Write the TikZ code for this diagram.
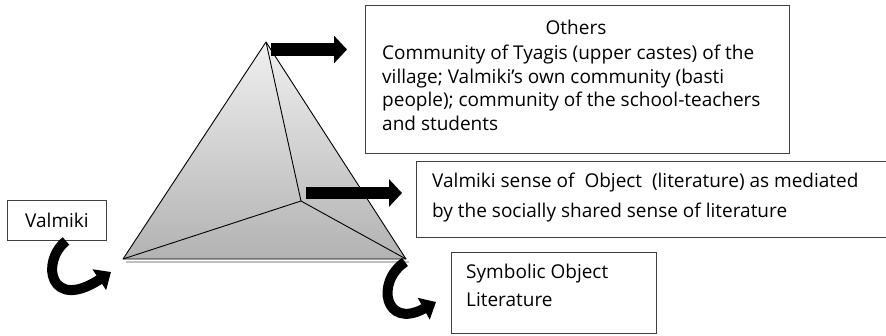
\documentclass[tikz,border=0pt]{standalone}
\usepackage{fontspec}
\setmainfont{Open Sans}
\usetikzlibrary{arrows.meta}
\newcommand{\bfs}[1]{\fontsize{19}{#1}\selectfont}
\tikzset{
  box/.style={draw=black!75, line width=0.9pt, fill=white, inner sep=0pt, anchor=north west},
  txt/.style={inner sep=0pt, anchor=base west, font=\bfs{23.5}},
  blockarrow/.style={line width=12.5pt, -{Triangle[width=27pt,length=13pt]}},
  curvearrow/.style={line width=10pt, -{Triangle[width=24pt,length=14pt]}},
  edge/.style={line width=0.9pt, line join=round}
}
\begin{document}
\begin{tikzpicture}[x=1pt,y=-1pt]
\useasboundingbox (0,0) rectangle (886,335);
% pyramid
\coordinate (A) at (266,42);
\coordinate (L) at (123,259);
\coordinate (R) at (406,259);
\coordinate (I) at (301,201);
\draw[black!25, line width=2pt] (126,261.5) -- (409,261.5);
\shade[top color=black!6, bottom color=black!30] (A) -- (L) -- (R) -- cycle;
\draw[edge] (A) -- (L) -- (R) -- cycle;
\draw[edge] (A) -- (I) (L) -- (I) -- (R);
% boxes
\node[box, minimum width=424pt, minimum height=148pt] (others) at (365,5) {};
\node[box, minimum width=470pt, minimum height=76pt] (sense) at (416,161) {};
\node[box, minimum width=205pt, minimum height=81pt] (symb) at (451,252) {};
\node[box, minimum width=99pt, minimum height=40pt] (valm) at (7,200) {};
% texts
\node[txt, anchor=base] (othersT) at (576,34) {Others};
\node[txt] (othersB) at (382,59.5) {\parbox[t]{400pt}{\raggedright\bfs{23.5}
Community of Tyagis (upper castes) of the\\
village; Valmiki’s own community (basti\\
people); community of the school-teachers\\
and students}};
\node[txt] (senseT) at (432,187.5) {\parbox[t]{460pt}{\raggedright\bfs{30}
Valmiki sense of\ \ Object\ \ (literature) as mediated\\
by the socially shared sense of literature}};
\node[txt] (symbT) at (466,278) {\parbox[t]{180pt}{\raggedright\bfs{28.5}
Symbolic Object\\
Literature}};
\node[txt, anchor=base] (valmT) at (57,227) {Valmiki};
% arrows
\coordinate (a1s) at (271,49.5);
\coordinate (a1e) at (347,49.5);
\draw[blockarrow] (a1s) -- (a1e);
\coordinate (a2s) at (306,193);
\coordinate (a2e) at (402,193);
\draw[blockarrow] (a2s) -- (a2e);
\coordinate (c1s) at (66,241);
\coordinate (c1e) at (111,272);
\draw[curvearrow] (c1s) .. controls (40,262) and (50,312) .. (c1e);
\coordinate (c2s) at (405,262);
\coordinate (c2e) at (436,302);
\draw[curvearrow] (c2s) .. controls (375,282) and (385,330) .. (c2e);
\end{tikzpicture}
\end{document}
